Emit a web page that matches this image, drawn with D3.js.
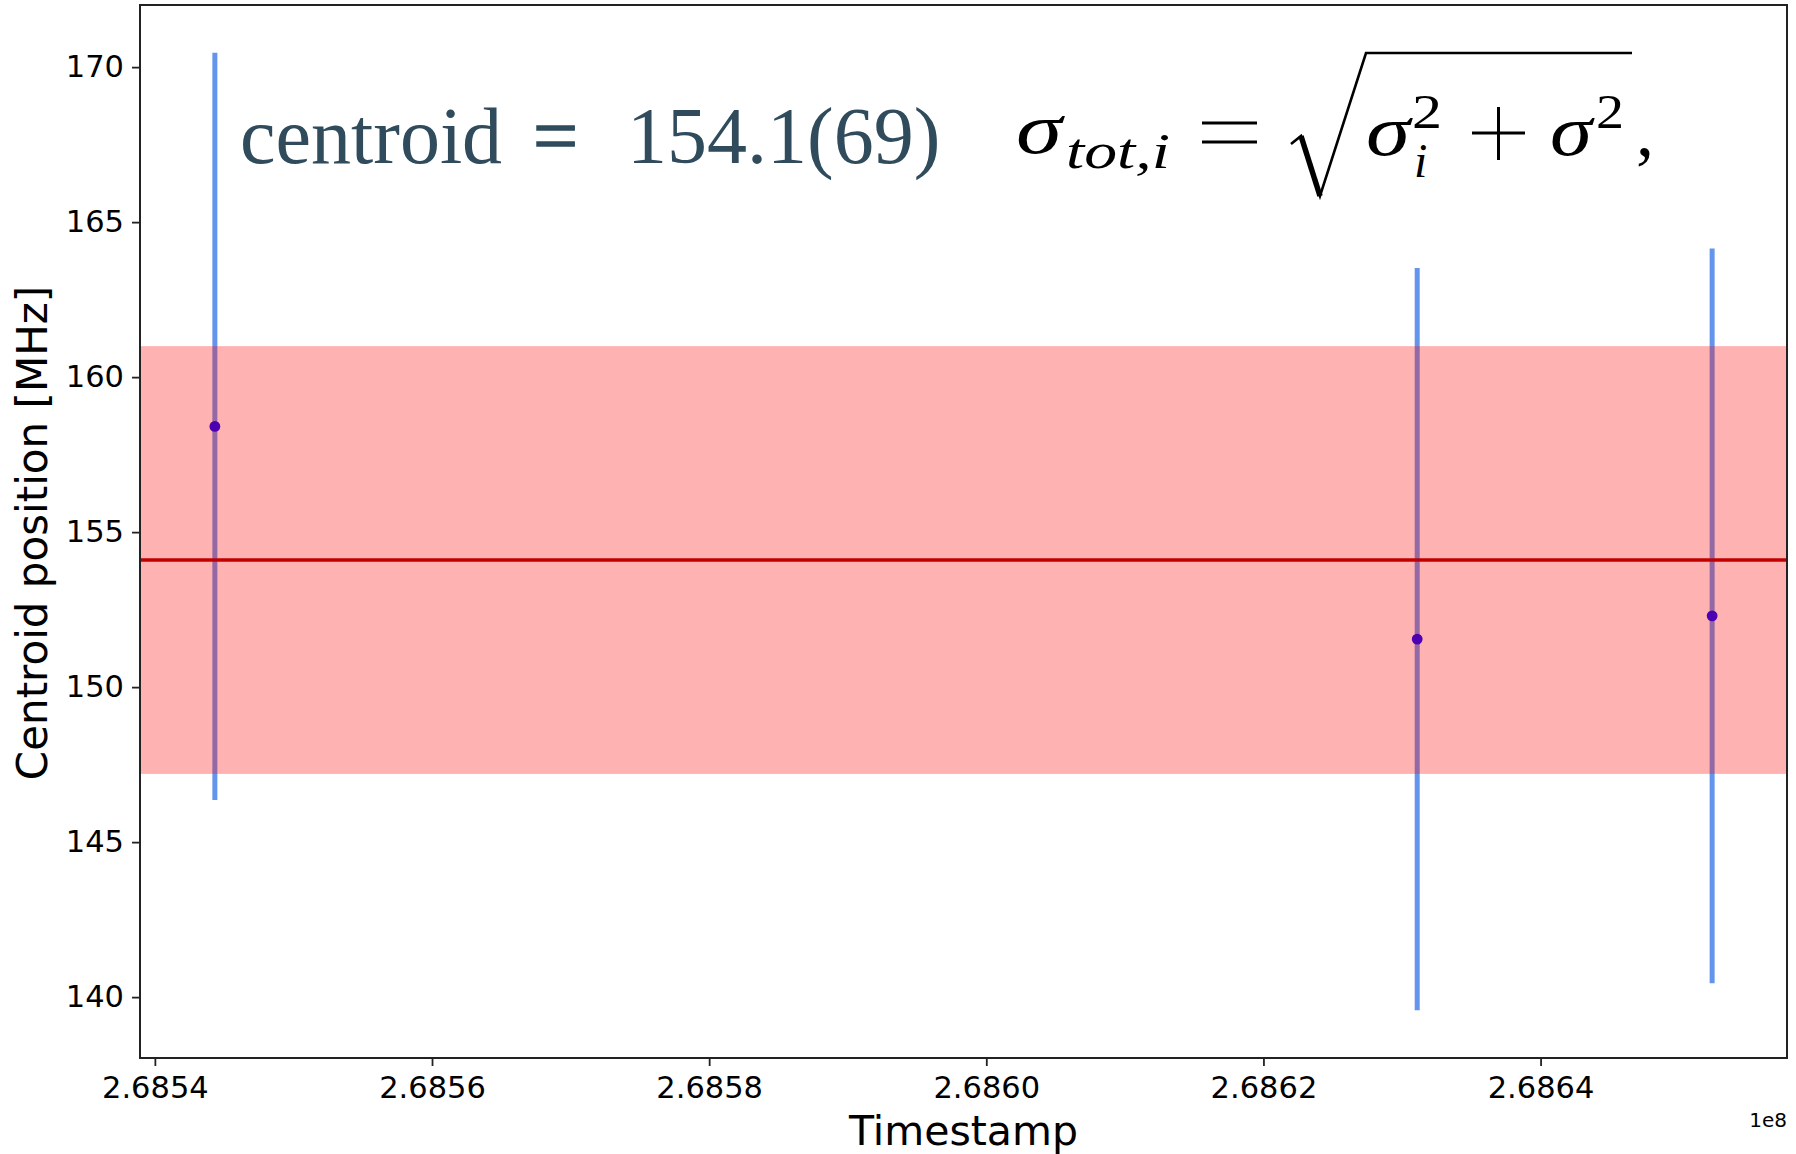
<!DOCTYPE html>
<html>
<head>
<meta charset="utf-8">
<script src="https://cdn.jsdelivr.net/npm/d3@7"></script>
<style>
  html, body { margin: 0; padding: 0; background: #fff; }
  svg { display: block; }
</style>
</head>
<body>
<svg id="chart" width="1796" height="1154"></svg>
<script>
// Measurement timestamps (s) and fitted centroid positions (MHz)
const timestamps = [268544329, 268631097, 268652381];
const centroids = [158.41, 151.55, 152.3];
const totalErrors = [12.05, 11.97, 11.85];

// Weighted mean and its uncertainty
const centroidMean = 154.1;
const centroidSigma = 6.9;

const xTickValues = [268540000, 268560000, 268580000, 268600000, 268620000, 268640000];
const yTickValues = [140, 145, 150, 155, 160, 165, 170];

const W = 1796, H = 1154;
const margin = { left: 140, right: 9, top: 5, bottom: 96 };
const plotW = W - margin.left - margin.right;
const plotH = H - margin.top - margin.bottom;

const svg = d3.select("#chart");
const g = svg.append("g").attr("transform", `translate(${margin.left},${margin.top})`);

// Auto-limits with 5% padding on the data (including error bars)
const xMin = d3.min(timestamps), xMax = d3.max(timestamps);
const xPad = (xMax - xMin) * 0.05;
const lo = d3.min(centroids.map((c, i) => c - totalErrors[i]));
const hi = d3.max(centroids.map((c, i) => c + totalErrors[i]));
const yPad = (hi - lo) * 0.05;

const x = d3.scaleLinear().domain([xMin - xPad, xMax + xPad]).range([0, plotW]);
const y = d3.scaleLinear().domain([lo - yPad, hi + yPad]).range([plotH, 0]);

const data = timestamps.map((t, i) => ({ t, c: centroids[i], e: totalErrors[i] }));

g.append("clipPath").attr("id", "plotclip")
  .append("rect").attr("width", plotW).attr("height", plotH);
const plot = g.append("g").attr("clip-path", "url(#plotclip)");

// Error bars
plot.selectAll("line.err").data(data).enter().append("line")
  .attr("class", "err")
  .attr("x1", d => x(d.t)).attr("x2", d => x(d.t))
  .attr("y1", d => y(d.c - d.e)).attr("y2", d => y(d.c + d.e))
  .attr("stroke", "#6495ed").attr("stroke-width", 5);

// Centroid points
plot.selectAll("circle.pt").data(data).enter().append("circle")
  .attr("class", "pt")
  .attr("cx", d => x(d.t)).attr("cy", d => y(d.c))
  .attr("r", 5.4).attr("fill", "#0000ff");

// Uncertainty band of the mean
plot.append("rect")
  .attr("x", 0).attr("width", plotW)
  .attr("y", y(centroidMean + centroidSigma))
  .attr("height", y(centroidMean - centroidSigma) - y(centroidMean + centroidSigma))
  .attr("fill", "#ff0000").attr("fill-opacity", 0.3);

// Mean line
plot.append("line")
  .attr("x1", 0).attr("x2", plotW)
  .attr("y1", y(centroidMean)).attr("y2", y(centroidMean))
  .attr("stroke", "#c00000").attr("stroke-width", 3.6);

// Axes
const xAxis = d3.axisBottom(x).tickValues(xTickValues)
  .tickFormat(v => (v / 1e8).toFixed(4)).tickSize(8).tickSizeOuter(0).tickPadding(10);
const yAxis = d3.axisLeft(y).tickValues(yTickValues)
  .tickFormat(d3.format("d")).tickSize(8).tickSizeOuter(0).tickPadding(8);

const gx = g.append("g").attr("transform", `translate(0,${plotH})`).call(xAxis);
const gy = g.append("g").call(yAxis);
[gx, gy].forEach(a => {
  a.select(".domain").remove();
  a.selectAll(".tick line").attr("stroke", "#222").attr("stroke-width", 1.8);
  a.selectAll(".tick text").attr("fill", "#000")
    .style("font-family", "'DejaVu Sans', sans-serif").style("font-size", "30.5px");
});

// Frame
g.append("rect").attr("width", plotW).attr("height", plotH)
  .attr("fill", "none").attr("stroke", "#222").attr("stroke-width", 2);

// Axis labels
svg.append("text")
  .attr("x", margin.left + plotW / 2).attr("y", 1145)
  .attr("text-anchor", "middle")
  .style("font-family", "'DejaVu Sans', sans-serif").style("font-size", "41px")
  .text("Timestamp");

svg.append("text")
  .attr("transform", "translate(47,533) rotate(-90)")
  .attr("text-anchor", "middle")
  .style("font-family", "'DejaVu Sans', sans-serif").style("font-size", "42px")
  .text("Centroid position [MHz]");

svg.append("text")
  .attr("x", margin.left + plotW).attr("y", 1127)
  .attr("text-anchor", "end")
  .style("font-family", "'DejaVu Sans', sans-serif").style("font-size", "20px")
  .text("1e8");

// Annotation: result
const note = svg.append("text")
  .attr("y", 163)
  .attr("fill", "#2f4b5c")
  .style("font-family", "'Liberation Serif', 'Times New Roman', serif")
  .style("font-size", "80px");
note.append("tspan").attr("x", 240).text("centroid");
note.append("tspan").attr("x", 533).attr("stroke", "#2f4b5c").attr("stroke-width", 1.4).text("=");
note.append("tspan").attr("x", 627).text(`${centroidMean.toFixed(1)}(${Math.round(centroidSigma * 10)})`);

// Annotation: total uncertainty formula
const mathFont = "'Liberation Serif', 'Times New Roman', serif";
const f = svg.append("g").attr("fill", "#000");
function mtext(str, xPos, yPos, size, italic, len) {
  const t = f.append("text").attr("x", xPos).attr("y", yPos)
    .style("font-family", mathFont).style("font-size", size + "px")
    .style("font-style", italic ? "italic" : "normal").text(str);
  if (len) t.attr("textLength", len).attr("lengthAdjust", "spacingAndGlyphs");
  return t;
}
mtext("σ", 1016, 153, 72, true, 46);
mtext("tot,i", 1066, 168, 50, true, 104);
// equals sign
f.append("line").attr("x1", 1202).attr("x2", 1257).attr("y1", 123).attr("y2", 123).attr("stroke", "#000").attr("stroke-width", 3);
f.append("line").attr("x1", 1202).attr("x2", 1257).attr("y1", 142).attr("y2", 142).attr("stroke", "#000").attr("stroke-width", 3);
// radical sign
f.append("path").attr("d", "M1291,144 L1301,136 L1320,196 L1366,53 L1632,53")
  .attr("fill", "none").attr("stroke", "#000").attr("stroke-width", 2.6).attr("stroke-linejoin", "miter");
f.append("path").attr("d", "M1301,136 L1320,196")
  .attr("fill", "none").attr("stroke", "#000").attr("stroke-width", 5.5);
mtext("σ", 1366, 155, 72, true, 44);
mtext("2", 1412, 128, 48, false, 30);
mtext("i", 1414, 177, 48, true);
// plus sign
f.append("line").attr("x1", 1472).attr("x2", 1525).attr("y1", 133).attr("y2", 133).attr("stroke", "#000").attr("stroke-width", 3);
f.append("line").attr("x1", 1498.5).attr("x2", 1498.5).attr("y1", 107).attr("y2", 160).attr("stroke", "#000").attr("stroke-width", 3);
mtext("σ", 1550, 155, 72, true, 42);
mtext("2", 1596, 128, 48, false, 28);
mtext(",", 1636, 155, 72, false);
</script>
</body>
</html>
